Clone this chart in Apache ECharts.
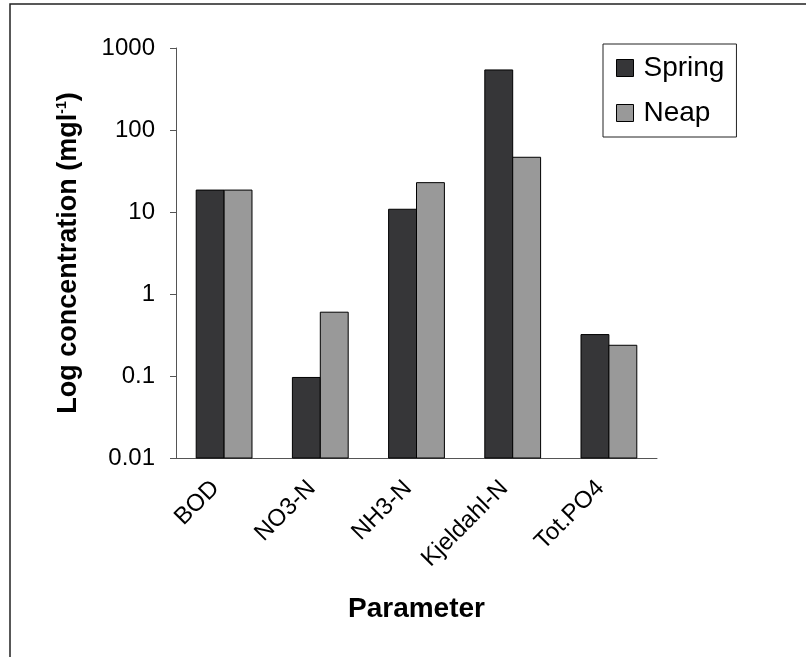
<!DOCTYPE html>
<html>
<head>
<meta charset="utf-8">
<script src="https://cdn.jsdelivr.net/npm/echarts@6/dist/echarts.min.js"></script>
<style>html,body{margin:0;padding:0;background:#fff;}#c{width:806px;height:657px;}</style>
</head>
<body>
<div id="c"></div>
<script>
var categories = ['BOD', 'NO3-N', 'NH3-N', 'Kjeldahl-N', 'Tot.PO4'];
var springValues = [18.5, 0.096, 10.8, 540, 0.32];
var neapValues = [18.5, 0.6, 22.8, 46.5, 0.237];
var yTicks = [0.01, 0.1, 1, 10, 100, 1000];

var chart = echarts.init(document.getElementById('c'));
var font = 'Liberation Sans, Arial, sans-serif';
var BAR_FRAC = 0.29;

function barRenderer(side) {
  return function (params, api) {
    var idx = api.value(0);
    var val = api.value(1);
    var top = api.coord([idx, val]);
    var base = api.coord([idx, yTicks[0]]);
    var band = api.size([1, 0])[0];
    var w = band * BAR_FRAC;
    var x = side < 0 ? top[0] - w : top[0];
    return {
      type: 'rect',
      shape: { x: x, y: top[1], width: w, height: base[1] - top[1] },
      style: api.style()
    };
  };
}

function toData(vals) {
  return vals.map(function (v, i) { return [i, v]; });
}

chart.setOption({
  animation: false,
  backgroundColor: '#fff',
  graphic: [{
    type: 'polyline',
    shape: { points: [[10, 670], [10, 4], [820, 4]] },
    style: { stroke: '#222', lineWidth: 1.5, fill: null }
  }],
  grid: { left: 176, right: 149, top: 48, bottom: 199 },
  legend: {
    left: 603, top: 44,
    orient: 'vertical',
    padding: [9, 12, 9, 13],
    itemGap: 15,
    itemWidth: 17, itemHeight: 17,
    borderColor: '#222', borderWidth: 1,
    icon: 'rect',
    textStyle: { fontFamily: font, fontSize: 28, color: '#000', lineHeight: 30, padding: [0, 0, 0, 5] },
    data: [
      { name: 'Spring', itemStyle: { color: '#363638', borderColor: '#000', borderWidth: 1 } },
      { name: 'Neap', itemStyle: { color: '#999999', borderColor: '#000', borderWidth: 1 } }
    ]
  },
  xAxis: {
    type: 'category',
    data: categories,
    name: 'Parameter',
    nameLocation: 'middle',
    nameGap: 137,
    nameTextStyle: { fontFamily: font, fontSize: 28, fontWeight: 'bold', color: '#000' },
    axisLine: { lineStyle: { color: '#555', width: 1 } },
    axisTick: { length: 7, lineStyle: { color: '#555' } },
    axisLabel: { rotate: 45, fontFamily: font, fontSize: 24, color: '#000', margin: 18, interval: 0, padding: [0, 12, 0, 0] }
  },
  yAxis: {
    type: 'log',
    logBase: 10,
    min: yTicks[0],
    max: yTicks[yTicks.length - 1],
    name: 'Log concentration (mgl{s|-1})',
    nameLocation: 'middle',
    nameGap: 93,
    nameRotate: 90,
    nameTextStyle: { fontFamily: font, fontSize: 27, fontWeight: 'bold', color: '#000',
      rich: { s: { fontFamily: font, fontSize: 14, fontWeight: 'bold', color: '#000', padding: [0, 0, 14, 0] } } },
    splitLine: { show: false },
    axisLine: { show: true, lineStyle: { color: '#555', width: 1 } },
    axisTick: { show: true, inside: false, length: 6, lineStyle: { color: '#555' } },
    axisLabel: {
      fontFamily: font, fontSize: 24, color: '#000', margin: 21,
      formatter: function (v) {
        var best = yTicks.reduce(function (a, b) { return Math.abs(Math.log10(b) - Math.log10(v)) < Math.abs(Math.log10(a) - Math.log10(v)) ? b : a; });
        return String(best);
      }
    }
  },
  series: [
    { name: 'Spring', type: 'custom', renderItem: barRenderer(-1), data: toData(springValues),
      encode: { x: 0, y: 1 },
      itemStyle: { color: '#363638', borderColor: '#000', borderWidth: 1 } },
    { name: 'Neap', type: 'custom', renderItem: barRenderer(1), data: toData(neapValues),
      encode: { x: 0, y: 1 },
      itemStyle: { color: '#999999', borderColor: '#000', borderWidth: 1 } }
  ]
});
</script>
</body>
</html>
